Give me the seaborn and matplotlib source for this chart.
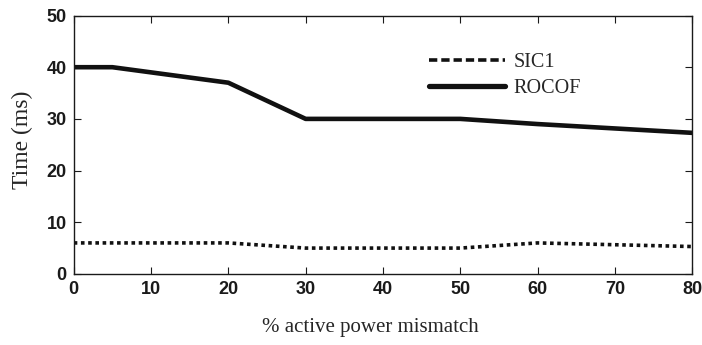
import matplotlib
matplotlib.use("Agg")
import matplotlib.pyplot as plt
import seaborn as sns
import pandas as pd
from matplotlib.lines import Line2D

mismatch = [0, 5, 20, 30, 50, 60, 80]
sic1 = [6, 6, 6, 5, 5, 6, 5.3]
rocof = [40, 40, 37, 30, 30, 29, 27.3]

df = pd.DataFrame({
    "mismatch": mismatch * 2,
    "time": sic1 + rocof,
    "method": ["SIC1"] * len(mismatch) + ["ROCOF"] * len(mismatch),
})

sns.set_theme(style="ticks")
plt.rcParams["font.family"] = ["Liberation Sans", "DejaVu Sans"]

fig = plt.figure(figsize=(7.02, 3.45), dpi=100)
ax = fig.add_axes([0.105, 0.206, 0.881, 0.749])

sns.lineplot(data=df[df.method == "ROCOF"], x="mismatch", y="time", ax=ax,
             color="#111111", linewidth=3.3, legend=False)
sns.lineplot(data=df[df.method == "SIC1"], x="mismatch", y="time", ax=ax,
             color="#111111", linewidth=2.6, legend=False)
ax.lines[1].set_linestyle((0, (1, 1)))
ax.lines[1].set_dash_capstyle("butt")

ax.set_xlim(0, 80)
ax.set_ylim(0, 50)
ax.set_xticks(range(0, 81, 10))
ax.set_yticks(range(0, 51, 10))
for lab in ax.get_xticklabels() + ax.get_yticklabels():
    lab.set_fontweight("bold")
    lab.set_fontsize(13)
ax.tick_params(direction="in", top=True, right=True, length=5, width=0.8,
               colors="#1a1a1a", pad=5)
for s in ax.spines.values():
    s.set_linewidth(1.0)
    s.set_color("#1a1a1a")

ax.set_xlabel("% active power mismatch", fontfamily="Liberation Serif", fontsize=15)
ax.set_ylabel("Time (ms)", fontfamily="Liberation Serif", fontsize=17)
ax.xaxis.set_label_coords(0.48, -0.17)
ax.yaxis.set_label_coords(-0.065, 0.52)

handles = [
    Line2D([], [], color="#111111", linewidth=2.6, linestyle=(0, (2.3, 1.1))),
    Line2D([], [], color="#111111", linewidth=3.8),
]
ax.legend(handles, ["SIC1", "ROCOF"], frameon=False, loc="upper left",
          bbox_to_anchor=(0.545, 0.925), handlelength=3.8, handletextpad=0.4,
          labelspacing=0.35, prop={"family": "Liberation Serif", "size": 14.5})

fig.savefig("out.png", dpi=100)
